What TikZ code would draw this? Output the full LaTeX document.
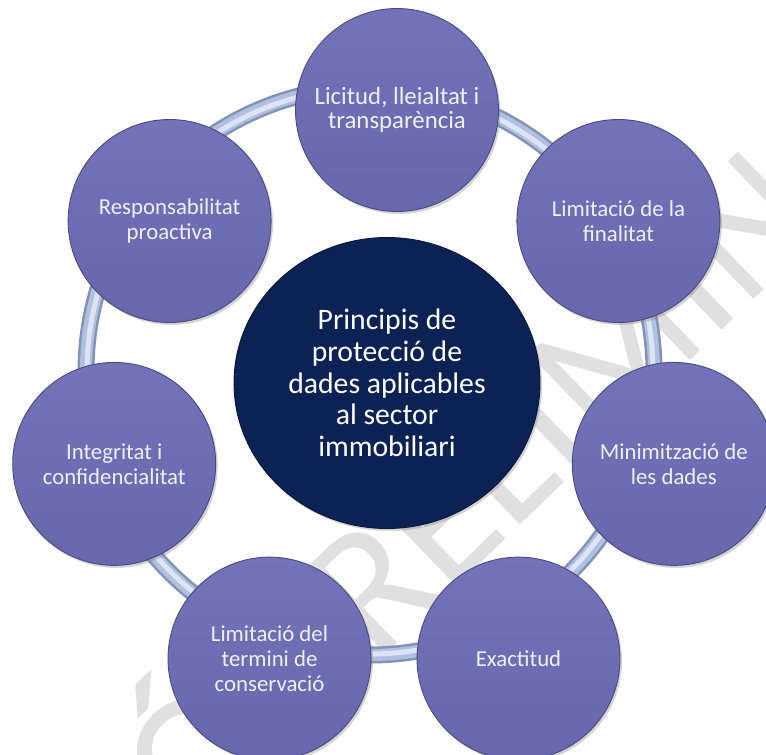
\documentclass[tikz,border=0pt]{standalone}
\usepackage{fontspec}
\setmainfont{Carlito}
\usetikzlibrary{shadows,shapes.geometric}
\definecolor{petaltop}{HTML}{7373BA}
\definecolor{petalbot}{HTML}{6767AD}
\definecolor{petalrim}{HTML}{4A4A80}
\definecolor{hub}{HTML}{0C2254}
\definecolor{hubrim}{HTML}{07173A}
\definecolor{tubeedge}{HTML}{8393B6}
\definecolor{tubemid}{HTML}{B2C0DF}
\definecolor{tubehi}{HTML}{DCE4F5}
\definecolor{wmark}{HTML}{E0E0E0}
\definecolor{petaltext}{HTML}{F0F0FA}
\begin{document}
\begin{tikzpicture}[x=1pt,y=-1pt,
  petalnode/.style={circle, minimum size=203pt, inner sep=0pt,
    top color=petaltop, bottom color=petalbot, draw=petalrim, line width=0.9pt,
    text=petaltext, align=center, font=\fontsize{22.8}{25}\selectfont,
    drop shadow={shadow xshift=2pt, shadow yshift=-2.5pt, opacity=0.35}},
  bigpetal/.style={petalnode, font=\fontsize{24.8}{24.5}\selectfont},
  hubnode/.style={ellipse, minimum width=306pt, minimum height=291pt, inner sep=0pt,
    fill=hub, draw=hubrim, line width=0.9pt,
    text=white, align=center, font=\fontsize{29.7}{31.7}\selectfont,
    drop shadow={shadow xshift=2pt, shadow yshift=-2.5pt, opacity=0.35}},
  wmnode/.style={text=wmark, font=\fontsize{182}{182}\selectfont, inner sep=0pt},
]
\useasboundingbox (0,0) rectangle (766,755);
% watermark
\node[wmnode, rotate=44] (wm) at (382,554) {VERSIÓ PRELIMINAR};
% ring
\coordinate (ringc) at (370,371);
\draw[tubeedge, line width=17pt] (ringc) circle[radius=284];
\draw[tubemid, line width=12pt] (ringc) circle[radius=284];
\draw[tubehi, line width=5pt] (ringc) circle[radius=283];
% hub
\node[hubnode] (hub) at (387,383) {Principis de\\protecció de\\dades aplicables\\al sector\\immobiliari};
% petals
\node[bigpetal] (p1) at (397,110) {Licitud, lleialtat i\\transparència};
\node[petalnode] (p2) at (618.4,221) {Limitació de la\\finalitat};
\node[petalnode] (p3) at (673.8,463.9) {Minimització de\\les dades};
\node[petalnode] (p4) at (518.5,658.6) {Exactitud};
\node[petalnode] (p5) at (269.5,658.6) {Limitació del\\termini de\\conservació};
\node[petalnode] (p6) at (114.2,463.9) {Integritat i\\confidencialitat};
\node[petalnode] (p7) at (169.6,221) {Responsabilitat\\proactiva};
\end{tikzpicture}
\end{document}
